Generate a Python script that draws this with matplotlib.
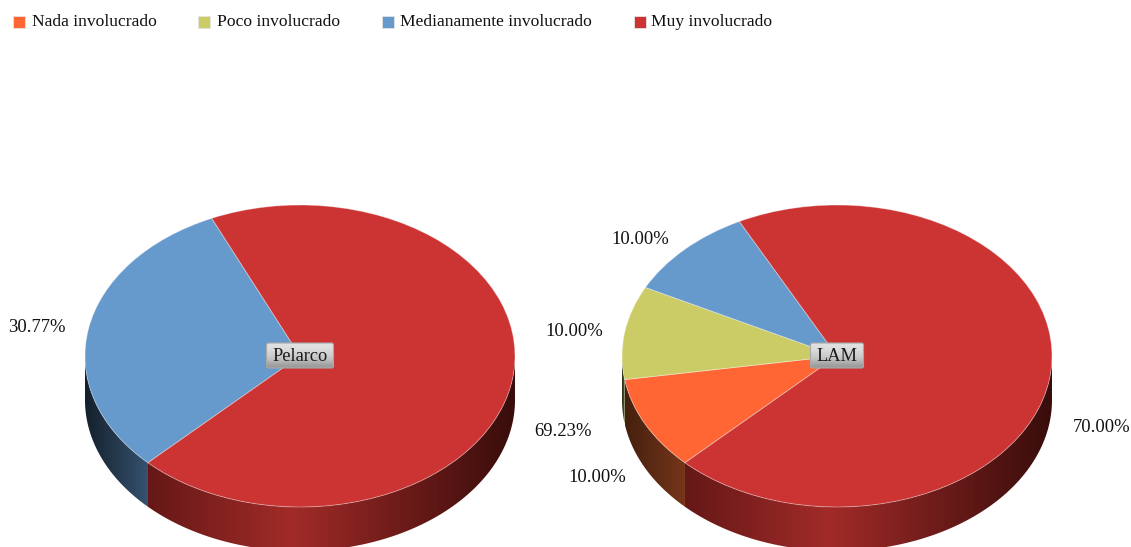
import numpy as np
import matplotlib
matplotlib.use('Agg')
import matplotlib.pyplot as plt
from matplotlib.colors import LinearSegmentedColormap
from matplotlib.patches import FancyBboxPatch, Rectangle, Polygon

plt.rcParams['font.family'] = ['Liberation Serif', 'DejaVu Serif']

categories = ['Nada involucrado', 'Poco involucrado', 'Medianamente involucrado', 'Muy involucrado']
pelarco_values = [0, 0, 30.77, 69.23]
lam_values = [10.00, 10.00, 10.00, 70.00]
pie_names = ['Pelarco', 'LAM']

colors = ['#FF6633', '#CCCC66', '#6699CC', '#CC3333']
# gradient of the side wall of each slice, left to right
side_grad = [
    [(0, '#45200e'), (1, '#76361a')],
    [(0, '#2e2e14'), (1, '#5a5a2c')],
    [(0, '#14202c'), (1, '#35526f')],
    [(0, '#651817'), (0.39, '#a12b28'), (0.68, '#6f1c1a'), (1, '#380d0b')],
]

W, H = 1131, 547
fig = plt.figure(figsize=(W / 100, H / 100), dpi=100)
base = fig.add_axes([0, 0, 1, 1])
base.axis('off')

rx, ry, depth = 215, 151, 44
start = 225


def draw_pie(values, cx, cy, name, badge_w):
    # 3d wall first
    ang = start
    for i, v in enumerate(values):
        if v == 0:
            continue
        a0 = ang
        a1 = ang - v * 3.6
        ang = a1
        # only the part of the slice on the front half has a visible wall
        vis = np.radians(np.linspace(a0, a1, 600))
        vis = vis[np.sin(vis) <= 0.001]
        if len(vis) < 2:
            continue
        xs = cx + rx * np.cos(vis)
        ys = cy - ry * np.sin(vis)
        outline = np.vstack([np.column_stack([xs, ys]), np.column_stack([xs, ys + depth])[::-1]])
        wall = Polygon(outline, closed=True, fc='none', ec='none')
        base.add_patch(wall)
        cmap = LinearSegmentedColormap.from_list('wall', side_grad[i])
        im = base.imshow(np.linspace(0, 1, 256)[None, :], cmap=cmap, aspect='auto',
                         extent=(xs.min(), xs.max(), cy + ry + depth, cy - ry), zorder=1)
        im.set_clip_path(wall)

    # top face
    ax = fig.add_axes([(cx - rx) / W, 1 - (cy + ry) / H, 2 * rx / W, 2 * ry / H], zorder=2)
    ax.pie(values, colors=colors, startangle=start, counterclock=False, radius=1,
           wedgeprops={'edgecolor': (1, 1, 1, 0.35), 'linewidth': 0.7})
    ax.set_aspect('auto')
    ax.set_xlim(-1, 1)
    ax.set_ylim(-1, 1)
    ax.patch.set_alpha(0)

    # name badge
    over = fig.add_axes([0, 0, 1, 1], zorder=3)
    over.axis('off')
    bx, by, bh = cx - badge_w / 2, 343, 25
    patch = FancyBboxPatch((bx + 1.5, by + 1.5), badge_w - 3, bh - 3, boxstyle='round,pad=1.5,rounding_size=2',
                           fc='none', ec='#a8a8a8', lw=0.8, zorder=3)
    over.add_patch(patch)
    grad = np.array([[0.88], [0.85], [0.80], [0.74], [0.60]])
    im = over.imshow(grad, cmap='gray', vmin=0, vmax=1, aspect='auto', interpolation='bicubic',
                     extent=(bx, bx + badge_w, by + bh, by), zorder=2)
    im.set_clip_path(patch)
    over.set_xlim(0, W)
    over.set_ylim(H, 0)
    over.text(cx, by + bh / 2 + 1, name, ha='center', va='center', fontsize=13.2, color='#1a1a1a', zorder=4)


draw_pie(pelarco_values, 300, 356, pie_names[0], 67)
draw_pie(lam_values, 837, 356, pie_names[1], 53)
base.set_xlim(0, W)
base.set_ylim(H, 0)

# percent labels
pelarco_pos = {2: (37, 327), 3: (563, 432)}
lam_pos = {0: (597, 477), 1: (574, 331), 2: (640, 239), 3: (1102, 428)}
for values, pos in [(pelarco_values, pelarco_pos), (lam_values, lam_pos)]:
    for i, p in pos.items():
        base.text(p[0], p[1], f'{values[i]:.2f}%', ha='center', va='center', fontsize=13.4, color='#111111')

# legend
sq_x = [13, 198, 382, 634]
tx_x = [32, 217, 400, 651]
for i, c in enumerate(categories):
    base.add_patch(Rectangle((sq_x[i], 16), 12, 12, fc=colors[i], ec='#e4e4e4', lw=0.6))
    base.text(tx_x[i], 22.5, c, ha='left', va='center', fontsize=12.6, color='#111111')

fig.savefig('out.png', dpi=100)
